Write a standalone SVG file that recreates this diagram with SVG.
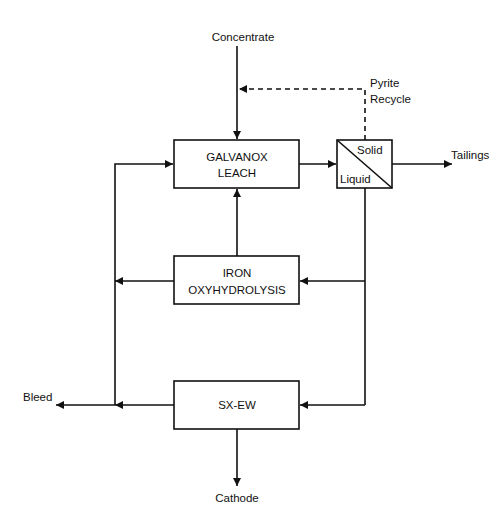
<svg xmlns="http://www.w3.org/2000/svg" width="500" height="524" viewBox="0 0 500 524">
<style>
text{font-family:"Liberation Sans",Arial,sans-serif;font-size:11.5px;fill:#111}
.box{fill:#fff;stroke:#111;stroke-width:1.6}
.ln{fill:none;stroke:#111;stroke-width:1.6}
.dash{fill:none;stroke:#111;stroke-width:1.6;stroke-dasharray:5,4}
.c{text-anchor:middle}
</style>
<defs>
<marker id="ah" markerWidth="10" markerHeight="10" refX="8" refY="4" orient="auto" markerUnits="userSpaceOnUse">
<path d="M0,0 L8,4 L0,8 Z" fill="#111"/>
</marker>
</defs>
<rect width="500" height="524" fill="#fff"/>
<g id="connectors">
<line class="ln" x1="237" y1="46" x2="237" y2="139" marker-end="url(#ah)"/>
<polyline class="dash" points="365,140 365,89 240,89"/>
<path d="M239,89 L247,85 L247,93 Z" fill="#111"/>
<line class="ln" x1="299" y1="164" x2="336" y2="164" marker-end="url(#ah)"/>
<line class="ln" x1="392" y1="164" x2="452" y2="164" marker-end="url(#ah)"/>
<line class="ln" x1="365" y1="188" x2="365" y2="405"/>
<line class="ln" x1="365" y1="281" x2="300" y2="281" marker-end="url(#ah)"/>
<line class="ln" x1="365" y1="405" x2="300" y2="405" marker-end="url(#ah)"/>
<line class="ln" x1="237" y1="256" x2="237" y2="189" marker-end="url(#ah)"/>
<line class="ln" x1="174" y1="281" x2="115" y2="281" marker-end="url(#ah)"/>
<line class="ln" x1="174" y1="405" x2="115" y2="405" marker-end="url(#ah)"/>
<line class="ln" x1="115" y1="405" x2="56" y2="405" marker-end="url(#ah)"/>
<polyline class="ln" points="115,405 115,164 173,164" marker-end="url(#ah)"/>
<line class="ln" x1="237" y1="429" x2="237" y2="486" marker-end="url(#ah)"/>
</g>
<g id="galvanox">
<rect class="box" x="174" y="140" width="125" height="48"/>
<text class="c" x="237" y="161">GALVANOX</text>
<text class="c" x="237" y="177">LEACH</text>
</g>
<g id="separator">
<rect class="box" x="337" y="140" width="55" height="48"/>
<line class="ln" x1="337" y1="140" x2="392" y2="188" stroke-width="1.2"/>
<text x="357" y="154">Solid</text>
<text x="340" y="183">Liquid</text>
</g>
<g id="iron">
<rect class="box" x="174" y="256" width="125" height="48"/>
<text class="c" x="237" y="277">IRON</text>
<text class="c" x="237" y="294">OXYHYDROLYSIS</text>
</g>
<g id="sxew">
<rect class="box" x="174" y="381" width="125" height="48"/>
<text class="c" x="237" y="409">SX-EW</text>
</g>
<g id="labels">
<text class="c" x="243" y="41">Concentrate</text>
<text x="370" y="87">Pyrite</text>
<text x="370" y="103">Recycle</text>
<text x="451" y="159">Tailings</text>
<text x="23" y="401">Bleed</text>
<text class="c" x="237" y="502">Cathode</text>
</g>
</svg>
